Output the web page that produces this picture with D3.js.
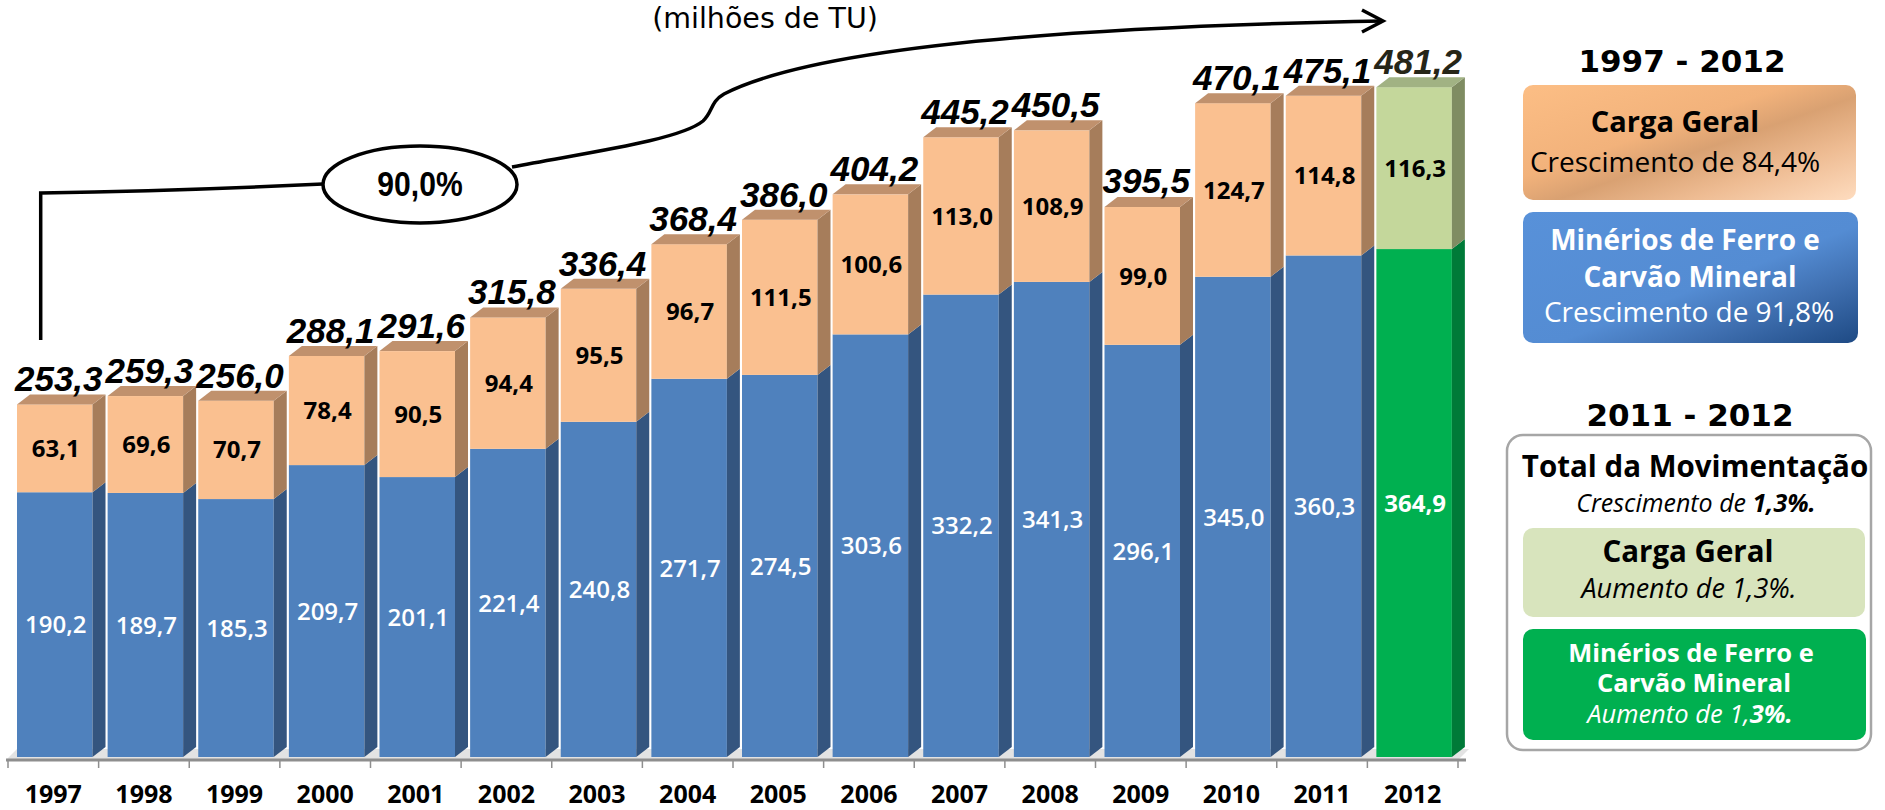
<!DOCTYPE html>
<meta charset="utf-8" />
<title>Movimentação 1997 - 2012</title>
<style>
  body { margin: 0; background: #fff; }
  svg text { font-family: "Open Sans", "DejaVu Sans", sans-serif; }
  .total { font-family: "Liberation Sans", Arial, sans-serif; font-weight: bold; font-style: italic; font-size: 35px; }
  .seg { font-size: 24px; font-weight: bold; }
  .ano { font-size: 25px; font-weight: bold; }
  .tit { font-family: "DejaVu Sans", sans-serif; font-weight: bold; font-size: 31px; }
  .ann { fill: none; stroke: #000; stroke-width: 3.5; stroke-linecap: butt; }
</style>

<body>
  <script src="https://d3js.org/d3.v7.min.js"></script>
  <script>
    // dados (milhões de TU)
    var anos = ["1997", "1998", "1999", "2000", "2001", "2002", "2003", "2004",
      "2005", "2006", "2007", "2008", "2009", "2010", "2011", "2012"];
    var minerios = [190.2, 189.7, 185.3, 209.7, 201.1, 221.4, 240.8, 271.7,
      274.5, 303.6, 332.2, 341.3, 296.1, 345.0, 360.3, 364.9];
    var cargaGeral = [63.1, 69.6, 70.7, 78.4, 90.5, 94.4, 95.5, 96.7,
      111.5, 100.6, 113.0, 108.9, 99.0, 124.7, 114.8, 116.3];
    var totais = [253.3, 259.3, 256.0, 288.1, 291.6, 315.8, 336.4, 368.4,
      386.0, 404.2, 445.2, 450.5, 395.5, 470.1, 475.1, 481.2];

    var width = 1885, height = 810;
    var br = d3.formatLocale({ decimal: ",", thousands: ".", grouping: [3], currency: ["R$", ""] });
    var fmt = br.format(".1f");

    var svg = d3.select("body").append("svg")
      .attr("width", width)
      .attr("height", height);

    var x = d3.scaleBand().domain(anos).range([8, 1458]).padding(0);
    var y = d3.scaleLinear().domain([0, 500]).range([757, 61]);

    // 3d look
    var off = 9, fw = 75.5, dx = 13, dy = 10;

    var cores = {
      minerios: { front: "#4f81bd", side: "#34557f", top: "#3d6699", text: "#fff" },
      carga: { front: "#fac090", side: "#a67d5b", top: "#c0916d", text: "#000" }
    };
    var cores2012 = {
      minerios: { front: "#00b050", side: "#007a38", top: "#008c40", text: "#fff" },
      carga: { front: "#c4d79b", side: "#7f8c62", top: "#a1b283", text: "#000" }
    };

    var rows = anos.map(function(a, i) {
      return { ano: a, minerios: minerios[i], carga: cargaGeral[i], total: totais[i] };
    });
    var series = d3.stack().keys(["minerios", "carga"])(rows);

    // floor + axis
    svg.append("polygon")
      .attr("points", [[6, 760], [1458, 760], [1469, 749], [17, 749]].join(" "))
      .attr("fill", "#e3e3e3");

    var bars = svg.append("g")
      .selectAll("g")
      .data(rows)
      .enter()
      .append("g");

    bars.each(function(d, i) {
      var g = d3.select(this);
      var x0 = x(d.ano) + off, x1 = x0 + fw;
      series.forEach(function(s, k) {
        var p = s[i];
        var c = (d.ano === "2012" ? cores2012 : cores)[s.key];
        var yb = y(p[0]), yt = y(p[1]);
        g.append("rect")
          .attr("x", x0).attr("y", yt)
          .attr("width", fw).attr("height", yb - yt)
          .attr("fill", c.front);
        g.append("polygon")
          .attr("points", [[x1, yb], [x1 + dx, yb - dy], [x1 + dx, yt - dy], [x1, yt]].join(" "))
          .attr("fill", c.side);
        if (k === series.length - 1) {
          g.append("polygon")
            .attr("points", [[x0, yt], [x0 + dx, yt - dy], [x1 + dx, yt - dy], [x1, yt]].join(" "))
            .attr("fill", c.top);
        }
      });
    });

    // segment labels
    series.forEach(function(s) {
      svg.append("g")
        .selectAll("text")
        .data(s)
        .enter()
        .append("text")
        .attr("class", "seg")
        .attr("x", function(p) { return x(p.data.ano) + off + fw / 2 + 1; })
        .attr("y", function(p) { return (y(p[0]) + y(p[1])) / 2; })
        .attr("dy", "0.36em")
        .attr("text-anchor", "middle")
        .attr("fill", function(p) { return (p.data.ano === "2012" ? cores2012 : cores)[s.key].text; })
        .style("font-weight", function(p) { return s.key === "minerios" && p.data.ano !== "2012" ? 600 : 700; })
        .text(function(p) { return fmt(p.data[s.key]); });
    });

    // totals
    svg.append("g")
      .selectAll("text")
      .data(rows)
      .enter()
      .append("text")
      .attr("class", "total")
      .attr("x", function(d) { return x(d.ano) + off + fw / 2 + 4; })
      .attr("y", function(d) { return y(d.total) - 13; })
      .attr("text-anchor", "middle")
      .attr("fill", function(d) { return d.ano === "2012" ? "#262618" : "#000"; })
      .text(function(d) { return fmt(d.total); });

    // x axis
    var ax = svg.append("g");
    ax.append("line")
      .attr("x1", 6).attr("x2", 1466).attr("y1", 760).attr("y2", 760)
      .attr("stroke", "#8e8e8e").attr("stroke-width", 3);
    ax.selectAll(".tk")
      .data(anos.map(function(a) { return x(a); }).concat([x.range()[1]]))
      .enter()
      .append("line")
      .attr("x1", function(v) { return v; }).attr("x2", function(v) { return v; })
      .attr("y1", 760).attr("y2", 768)
      .attr("stroke", "#8e8e8e").attr("stroke-width", 1.5);
    ax.selectAll("text")
      .data(anos)
      .enter()
      .append("text")
      .attr("class", "ano")
      .attr("x", function(a) { return x(a) + x.bandwidth() / 2; })
      .attr("y", 803)
      .attr("text-anchor", "middle")
      .text(function(a) { return a; });

    // unidade
    svg.append("text")
      .attr("x", 765).attr("y", 28)
      .attr("text-anchor", "middle")
      .style("font-family", "'DejaVu Sans', sans-serif")
      .style("font-size", "28.5px")
      .text("(milhões de TU)");

    // growth annotation
    var an = svg.append("g");
    an.append("path").attr("class", "ann")
      .attr("d", "M40.7,340 V193 Q180,191 323,184");
    an.append("path").attr("class", "ann")
      .attr("d", "M512,167 C590,152 680,140 703,121 C713,112 710,102 724,94 C800,55 1000,28 1383,21");
    an.append("path").attr("class", "ann")
      .attr("d", "M1362,10 L1383,21 L1362,32");
    an.append("ellipse").attr("class", "ann")
      .attr("cx", 420).attr("cy", 184.5).attr("rx", 97).attr("ry", 38.5)
      .attr("fill", "#fff");
    an.append("text")
      .attr("transform", "translate(420,196) scale(0.86,1)")
      .attr("text-anchor", "middle")
      .style("font-family", "'Liberation Sans', Arial, sans-serif")
      .style("font-weight", "bold")
      .style("font-size", "35px")
      .text("90,0%");

    // legend
    var defs = svg.append("defs");
    var gPeach = defs.append("linearGradient").attr("id", "gPeach")
      .attr("x1", 0).attr("y1", 0).attr("x2", 1).attr("y2", 1);
    [[0, "#fcbe85"], [0.4, "#f2b27b"], [0.55, "#d9a172"], [0.75, "#eebc93"], [1, "#fedcbf"]]
      .forEach(function(s) { gPeach.append("stop").attr("offset", s[0]).attr("stop-color", s[1]); });
    var gBlue = defs.append("linearGradient").attr("id", "gBlue")
      .attr("x1", 0).attr("y1", 0).attr("x2", 1).attr("y2", 1);
    [[0, "#5891d9"], [0.55, "#548cd3"], [0.75, "#3f6fb0"], [1, "#1e4a84"]]
      .forEach(function(s) { gBlue.append("stop").attr("offset", s[0]).attr("stop-color", s[1]); });

    var lg = svg.append("g");
    lg.append("text").attr("class", "tit")
      .attr("x", 1682).attr("y", 72).attr("text-anchor", "middle").text("1997 - 2012");

    lg.append("rect").attr("x", 1523).attr("y", 85).attr("width", 333).attr("height", 115)
      .attr("rx", 10).attr("fill", "url(#gPeach)");
    lg.append("text").attr("x", 1675).attr("y", 132).attr("text-anchor", "middle")
      .style("font-weight", 700).style("font-size", "29px").text("Carga Geral");
    lg.append("text").attr("x", 1675).attr("y", 172).attr("text-anchor", "middle")
      .style("font-size", "28px").text("Crescimento de 84,4%");

    lg.append("rect").attr("x", 1523).attr("y", 212).attr("width", 335).attr("height", 131)
      .attr("rx", 10).attr("fill", "url(#gBlue)");
    lg.append("text").attr("x", 1685).attr("y", 250).attr("text-anchor", "middle")
      .attr("fill", "#fff").style("font-weight", 700).style("font-size", "28px").text("Minérios de Ferro e");
    lg.append("text").attr("x", 1690).attr("y", 287).attr("text-anchor", "middle")
      .attr("fill", "#fff").style("font-weight", 700).style("font-size", "28px").text("Carvão Mineral");
    lg.append("text").attr("x", 1689).attr("y", 322).attr("text-anchor", "middle")
      .attr("fill", "#fff").style("font-size", "28px").text("Crescimento de 91,8%");

    lg.append("text").attr("class", "tit")
      .attr("x", 1690).attr("y", 426).attr("text-anchor", "middle").text("2011 - 2012");

    lg.append("rect").attr("x", 1507).attr("y", 435).attr("width", 364).attr("height", 315)
      .attr("rx", 16).attr("fill", "#fff").attr("stroke", "#a6a6a6").attr("stroke-width", 2.5);
    lg.append("text").attr("x", 1695).attr("y", 477).attr("text-anchor", "middle")
      .style("font-weight", 700).style("font-size", "29.5px").text("Total da Movimentação");
    var t1 = lg.append("text").attr("x", 1696).attr("y", 512).attr("text-anchor", "middle")
      .style("font-style", "italic").style("font-size", "25px");
    t1.append("tspan").text("Crescimento de ");
    t1.append("tspan").style("font-weight", 700).text("1,3%.");

    lg.append("rect").attr("x", 1523).attr("y", 528).attr("width", 342).attr("height", 89)
      .attr("rx", 10).attr("fill", "#d8e4bd");
    lg.append("text").attr("x", 1688).attr("y", 562).attr("text-anchor", "middle")
      .style("font-weight", 700).style("font-size", "29.5px").text("Carga Geral");
    lg.append("text").attr("x", 1689).attr("y", 598).attr("text-anchor", "middle")
      .style("font-style", "italic").style("font-size", "27px").text("Aumento de 1,3%.");

    lg.append("rect").attr("x", 1523).attr("y", 629).attr("width", 343).attr("height", 111)
      .attr("rx", 10).attr("fill", "#00b050");
    lg.append("text").attr("x", 1691).attr("y", 662).attr("text-anchor", "middle")
      .attr("fill", "#fff").style("font-weight", 700).style("font-size", "25.5px").text("Minérios de Ferro e");
    lg.append("text").attr("x", 1694).attr("y", 692).attr("text-anchor", "middle")
      .attr("fill", "#fff").style("font-weight", 700).style("font-size", "25.5px").text("Carvão Mineral");
    var t2 = lg.append("text").attr("x", 1690).attr("y", 723).attr("text-anchor", "middle")
      .attr("fill", "#fff").style("font-style", "italic").style("font-size", "25.5px");
    t2.append("tspan").text("Aumento de 1,");
    t2.append("tspan").style("font-weight", 700).text("3%.");
  </script>
</body>
